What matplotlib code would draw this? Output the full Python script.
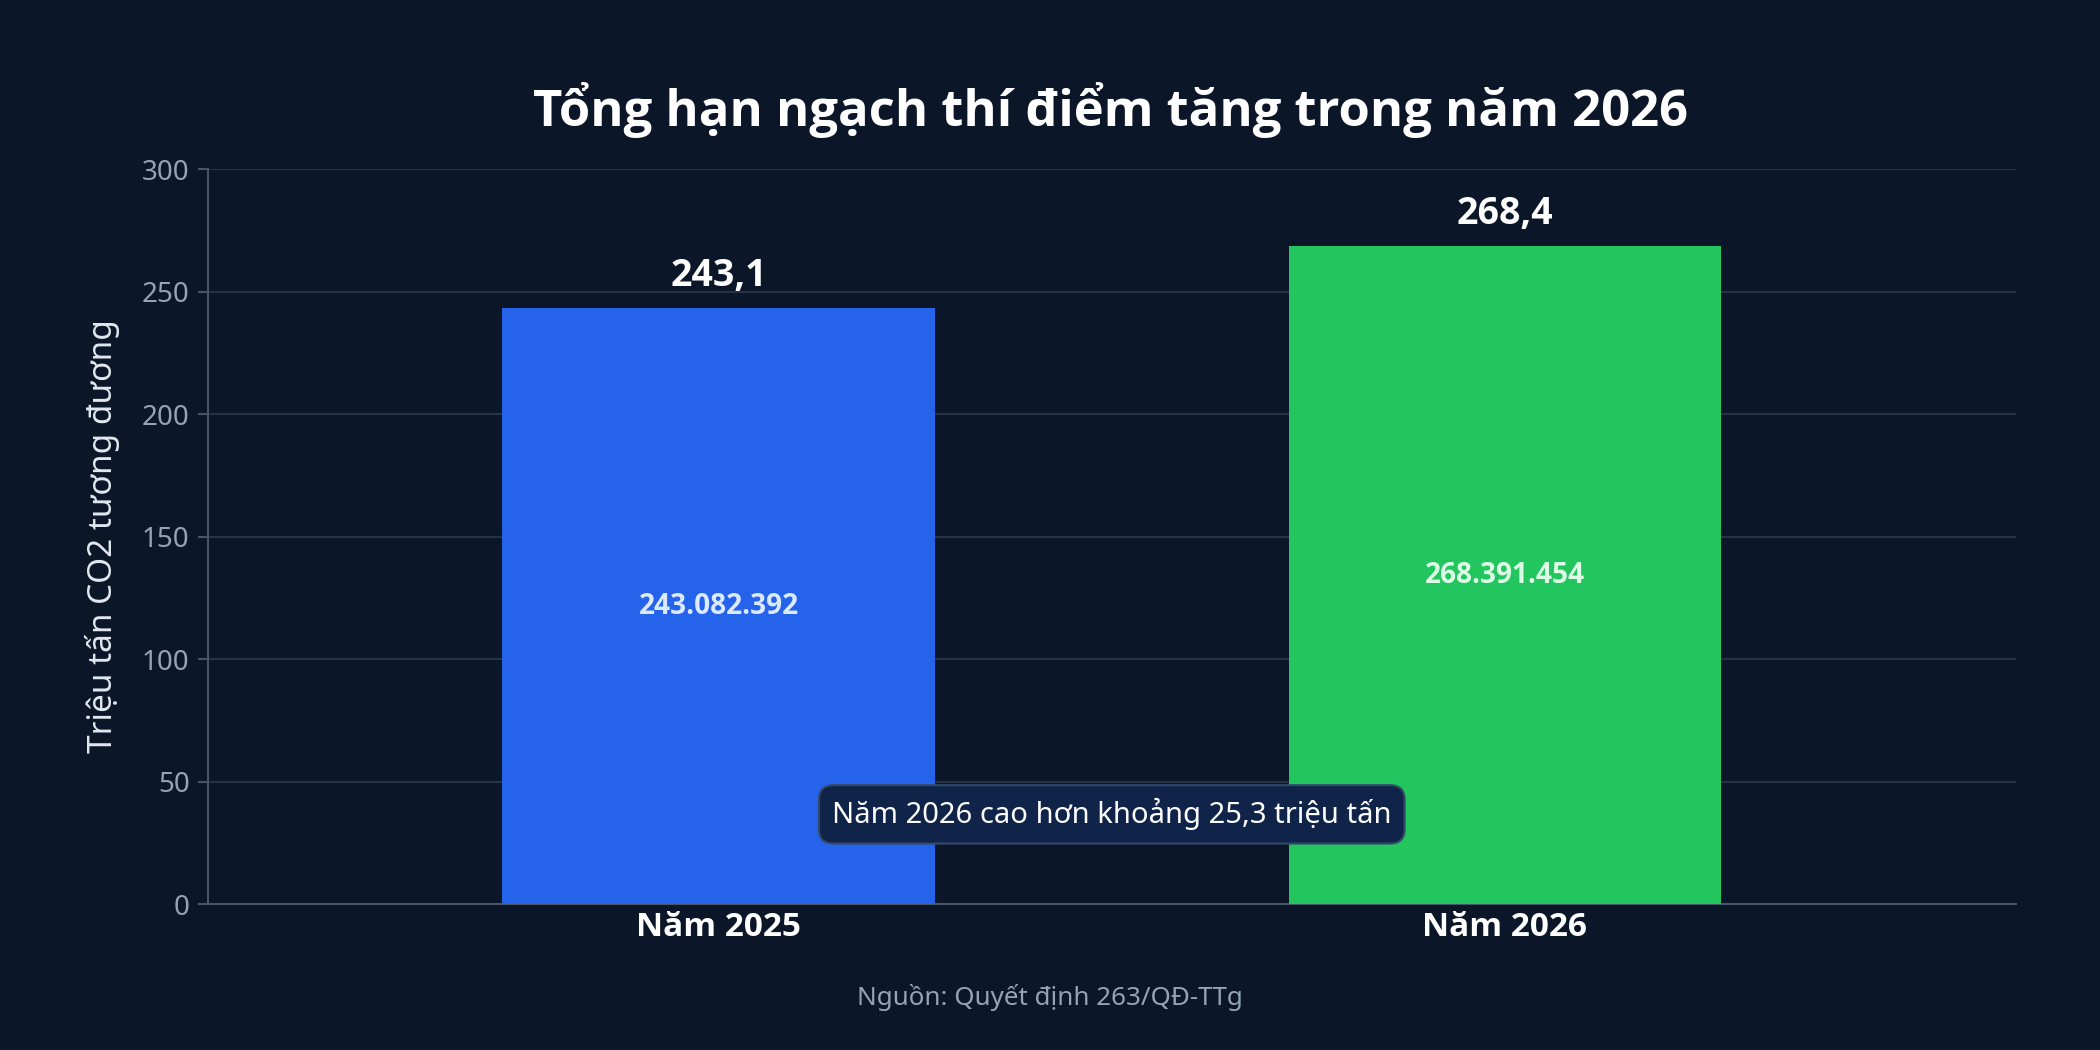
import matplotlib
matplotlib.use("Agg")
import matplotlib.pyplot as plt
from matplotlib import font_manager as fm

categories = ["Năm 2025", "Năm 2026"]
values_mt = [243.082392, 268.391454]        # triệu tấn
value_labels = ["243,1", "268,4"]
exact_labels = ["243.082.392", "268.391.454"]
yticks = [0, 50, 100, 150, 200, 250, 300]
note = "Năm 2026 cao hơn khoảng 25,3 triệu tấn"
title = "Tổng hạn ngạch thí điểm tăng trong năm 2026"
source = "Nguồn: Quyết định 263/QĐ-TTg"

BG = "#0b1628"
bar_colors = ["#2563eb", "#22c55e"]
inner_colors = ["#dbeafe", "#dcfce7"]


def pick_bold():
    # Noto Sans is only a variable font here, so look for a static bold face
    for fam in ["Open Sans", "Noto Sans", "Roboto", "Lato", "Inter"]:
        for f in fm.fontManager.ttflist:
            if f.name == fam and f.weight == 700 and f.style == "normal" and "[" not in f.fname:
                return fm.FontProperties(fname=f.fname)
    return fm.FontProperties(family="DejaVu Sans", weight="bold")


def main():
    plt.rcParams["font.family"] = ["Noto Sans", "DejaVu Sans"]
    bold = pick_bold()

    def bf(size):
        p = bold.copy()
        p.set_size(size)
        return p

    fig = plt.figure(figsize=(21, 10.5), dpi=100, facecolor=BG)
    ax = fig.add_axes([0.0989, 0.139, 0.861, 0.700])
    ax.set_facecolor(BG)

    x = list(range(len(categories)))
    bars = ax.bar(x, values_mt, width=0.55, color=bar_colors, zorder=3)

    for b, v, top, inner, ic in zip(bars, values_mt, value_labels, exact_labels, inner_colors):
        cx = b.get_x() + b.get_width() / 2
        ax.annotate(top, (cx, v), xytext=(0, 10), textcoords="offset points",
                    ha="center", va="bottom", fontproperties=bf(27),
                    color="white", zorder=4)
        ax.text(cx, v / 2, inner, ha="center", va="center", fontproperties=bf(20.2),
                color=ic, zorder=4)

    ax.set_xlim(-0.65, 1.65)
    ax.set_ylim(0, 300)
    ax.set_yticks(yticks)
    ax.set_xticks(x)
    ax.set_xticklabels(categories, color="white")
    for t in ax.get_xticklabels():
        t.set_fontproperties(bf(24))
    ax.tick_params(axis="x", length=0, pad=5)
    ax.tick_params(axis="y", labelsize=20, labelcolor="#94a3b8", color="#475569",
                   length=7, width=1.5, pad=6)
    ax.grid(axis="y", color="#253347", linewidth=1.5, zorder=0)

    for s in ["top", "right"]:
        ax.spines[s].set_visible(False)
    for s in ["left", "bottom"]:
        ax.spines[s].set_color("#475569")
        ax.spines[s].set_linewidth(1.5)

    ax.set_ylabel("Triệu tấn CO2 tương đương", fontsize=24, color="#e2e8f0", labelpad=16)

    ax.text(0.5, 0.122, note, transform=ax.transAxes, ha="center", va="center",
            fontsize=21, color="white", zorder=5,
            bbox=dict(boxstyle="round,pad=0.45,rounding_size=0.5",
                      facecolor="#10244a", edgecolor="#334a6a", linewidth=1.5))

    fig.text(0.529, 0.895, title, ha="center", va="center", fontproperties=bf(36.5),
             color="white")
    fig.text(0.5, 0.05, source, ha="center", va="center", fontsize=18.7, color="#94a3b8")

    fig.savefig("out.png", facecolor=BG)


if __name__ == "__main__":
    main()
